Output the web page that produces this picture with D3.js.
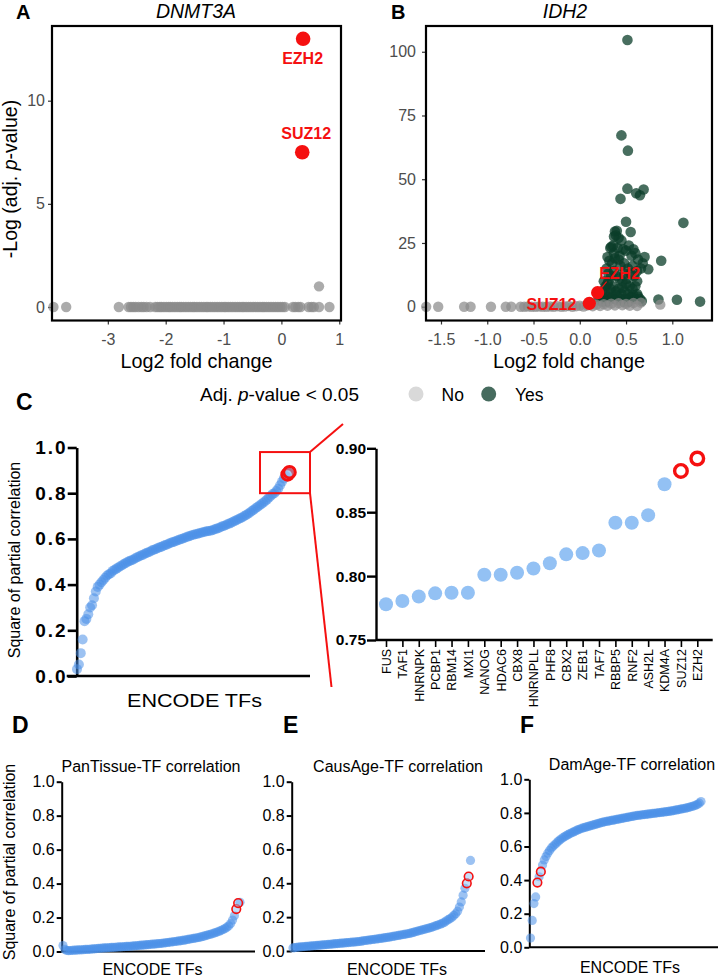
<!DOCTYPE html>
<html>
<head>
<meta charset="utf-8">
<script src="https://cdn.jsdelivr.net/npm/d3@7"></script>
<style>
  body { margin: 0; background: #fff; }
  svg { display: block; font-family: "Liberation Sans", Arial, Helvetica, sans-serif; }
</style>
</head>
<body>
<svg id="fig" width="720" height="977"></svg>
<script>
// ---- data ----
// A: DNMT3A volcano (log2FC, -log adj p)
const dnmtGreyX = [-3.94, -3.72, -2.81, -2.64, -2.6, -2.56, -2.52, -2.47, -2.42, -2.38, -2.33, -2.27,
  -2.18, -2.14, -2.1, -2.07, -2.03, -1.99, -1.95, -1.92, -1.88, -1.84, -1.8, -1.76, -1.73, -1.69, -1.65,
  -1.61, -1.57, -1.53, -1.5, -1.46, -1.42, -1.38, -1.34, -1.3, -1.27, -1.23, -1.19, -1.15, -1.11, -1.07,
  -1.03, -0.99, -0.96, -0.92, -0.88, -0.84, -0.8, -0.76, -0.72, -0.68, -0.65, -0.61, -0.57, -0.53, -0.49,
  -0.45, -0.41, -0.37, -0.33, -0.3, -0.26, -0.22, -0.18, -0.14, -0.1, -0.06, -0.02, 0.02, 0.06, 0.2, 0.24,
  0.29, 0.33, 0.47, 0.52, 0.56, 0.65, 0.83];
const dnmtGreyRaised = [[0.65, 1.0]];
const dnmtHits = [{ gene: 'EZH2', x: 0.375, y: 13.0 }, { gene: 'SUZ12', x: 0.36, y: 7.5 }];

// B: IDH2 volcano
const idhGrey = [[-1.66, 0], [-1.53, 0], [-1.25, 0], [-1.18, 0], [-0.96, 0], [-0.8, 0], [-0.74, 0],
  [-0.64, 0], [-0.6, 0], [-0.56, 0.1], [-0.52, 0], [-0.48, 0], [-0.44, 0.1], [-0.4, 0], [-0.36, 0],
  [-0.32, 0.1], [-0.28, 0], [-0.24, 0.2], [-0.2, 0], [-0.16, 0.1], [-0.12, 0.3], [-0.08, 0], [-0.04, 0.2],
  [0, 0.4], [0.04, 0.1], [0.08, 0.5], [0.14, 0.2], [0.18, 0.8], [0.22, 0.3], [0.26, 1.0], [0.3, 0.4],
  [0.34, 1.2], [0.38, 0.5], [0.42, 1.4], [0.46, 0.6], [0.5, 1.1], [0.54, 0.4], [0.58, 1.5], [0.62, 0.3],
  [0.66, 1.6], [0.87, 0.8]];
const idhGreen = [[0.515, 104.6], [0.45, 67.2], [0.52, 61.2], [0.515, 46.3], [0.61, 44.5], [0.69, 46],
  [0.65, 43.7], [0.44, 42.3], [0.5, 33.3], [1.12, 32.9], [0.55, 29.3], [0.88, 18], [0.7, 19.5], [0.74, 14.7],
  [0.85, 2.8], [1.05, 2.7], [1.3, 2.0], [0.67, 2.2], [0.62, 5],
  [0.38, 29.5], [0.4, 29.8], [0.39, 28], [0.37, 27.5], [0.42, 27], [0.45, 26], [0.36, 24], [0.34, 23.5],
  [0.33, 23], [0.41, 23], [0.47, 22.5], [0.5, 22], [0.53, 24], [0.58, 22.5], [0.6, 21], [0.56, 20],
  [0.63, 18.5], [0.68, 17], [0.66, 15], [0.3, 19.5], [0.32, 18], [0.35, 17], [0.38, 19], [0.42, 18.5],
  [0.44, 16], [0.48, 17], [0.52, 15], [0.55, 13], [0.59, 12], [0.62, 10], [0.29, 15], [0.31, 13],
  [0.34, 12], [0.37, 14], [0.4, 12], [0.43, 11], [0.46, 10], [0.5, 9], [0.54, 8], [0.57, 7], [0.6, 8],
  [0.26, 10], [0.28, 8], [0.3, 9], [0.33, 7], [0.36, 8], [0.39, 6], [0.42, 7], [0.45, 5], [0.48, 6],
  [0.52, 5], [0.56, 4], [0.58, 4.5], [0.24, 6], [0.22, 4], [0.26, 3.5], [0.29, 4], [0.32, 3], [0.35, 4],
  [0.38, 3], [0.41, 2.5], [0.44, 3], [0.47, 2], [0.5, 3], [0.53, 2], [0.55, 3.5], [0.6, 3], [0.63, 4],
  [0.65, 3], [0.2, 2.5], [0.25, 2], [0.3, 2], [0.27, 6], [0.34, 5.5], [0.4, 4.5], [0.46, 7.5], [0.51, 11],
  [0.57, 16], [0.62, 14], [0.48, 13], [0.43, 20], [0.37, 21], [0.31, 10]];
const idhHits = [{ gene: 'EZH2', x: 0.193, y: 5.5 }, { gene: 'SUZ12', x: 0.103, y: 1.33 }];

// C: ENCODE TFs ranked (square of partial correlation), last two are SUZ12 / EZH2
const encodeValues = [0.03, 0.05, 0.10, 0.16, 0.24, 0.25, 0.27, 0.30, 0.31, 0.34, 0.37, 0.39,
  0.40, 0.41, 0.42, 0.43, 0.44, 0.445, 0.45, 0.46, 0.465, 0.47, 0.475, 0.48, 0.485, 0.49, 0.495, 0.50,
  0.503, 0.507, 0.51, 0.515, 0.52, 0.523, 0.527, 0.53, 0.535, 0.538, 0.542, 0.545, 0.55, 0.553, 0.556,
  0.56, 0.563, 0.566, 0.57, 0.573,
  0.576, 0.58, 0.583, 0.586, 0.589, 0.592, 0.595, 0.598, 0.601, 0.604, 0.607, 0.61, 0.613, 0.616, 0.618,
  0.62, 0.622, 0.625, 0.627, 0.629, 0.631, 0.633, 0.635, 0.636,
  0.638, 0.641, 0.644, 0.647, 0.65, 0.654, 0.657, 0.66, 0.664, 0.667, 0.671, 0.675, 0.679, 0.683, 0.687,
  0.691, 0.695, 0.70,
  0.705, 0.71, 0.716, 0.722, 0.728, 0.734, 0.74, 0.746, 0.752, 0.758, 0.765, 0.772, 0.78, 0.788, 0.796,
  0.80, 0.81, 0.82, 0.835, 0.85, 0.865, 0.875, 0.882, 0.892];
const encodeHits = [112, 113];

// C zoom: top 20 TFs
const zoomGenes = ['FUS', 'TAF1', 'HNRNPK', 'PCBP1', 'RBM14', 'MXI1', 'NANOG', 'HDAC6', 'CBX8', 'HNRNPLL',
  'PHF8', 'CBX2', 'ZEB1', 'TAF7', 'RBBP5', 'RNF2', 'ASH2L', 'KDM4A', 'SUZ12', 'EZH2'];
const zoomValues = [0.778, 0.7805, 0.784, 0.7865, 0.787, 0.787, 0.801, 0.801, 0.8026, 0.806,
  0.810, 0.817, 0.818, 0.820, 0.8417, 0.8417, 0.8477, 0.8719, 0.8823, 0.8920];
const zoomHits = ['SUZ12', 'EZH2'];

// D, E, F
const panTissueValues = [0.035, 0.012, 0.006, 0.005, 0.006,
  0.007, 0.008, 0.008, 0.009, 0.010, 0.010, 0.011, 0.012, 0.012, 0.013, 0.014, 0.015, 0.016, 0.017, 0.018,
  0.019, 0.020, 0.021, 0.021, 0.022, 0.023, 0.024, 0.024, 0.025, 0.026, 0.027, 0.027, 0.028, 0.029, 0.030,
  0.030, 0.031, 0.032,
  0.033, 0.034, 0.035, 0.036, 0.037, 0.038, 0.039, 0.040, 0.041, 0.042, 0.043, 0.044, 0.045, 0.046,
  0.047, 0.048, 0.050, 0.051, 0.053, 0.054, 0.056, 0.057, 0.059, 0.060, 0.062, 0.063, 0.065,
  0.067, 0.069, 0.071, 0.073, 0.075, 0.077, 0.079, 0.081, 0.083,
  0.086, 0.089, 0.092, 0.095, 0.098, 0.101, 0.104, 0.108, 0.112,
  0.116, 0.120, 0.125, 0.130, 0.136, 0.143, 0.151,
  0.165, 0.185, 0.21, 0.25, 0.285, 0.29];
const panTissueHits = [93, 94];

const causAgeValues = [0.018, 0.020, 0.022, 0.023, 0.024, 0.025, 0.026, 0.027, 0.028, 0.029,
  0.030, 0.031, 0.032, 0.033, 0.034, 0.035, 0.036, 0.037, 0.038, 0.039,
  0.040, 0.041, 0.042, 0.043, 0.044, 0.045, 0.046, 0.047, 0.048, 0.049,
  0.050, 0.051, 0.052, 0.053, 0.054, 0.055, 0.056, 0.058, 0.060,
  0.062, 0.063, 0.065, 0.066, 0.068, 0.069, 0.071, 0.072, 0.074, 0.075, 0.077,
  0.079, 0.080, 0.082, 0.084, 0.086, 0.088, 0.090, 0.092, 0.094, 0.096,
  0.098, 0.100, 0.102, 0.104, 0.107, 0.110,
  0.113, 0.116, 0.119, 0.122, 0.125, 0.128, 0.131, 0.134, 0.137,
  0.140, 0.144, 0.148, 0.152, 0.156, 0.160, 0.165, 0.170, 0.178,
  0.185, 0.192, 0.20, 0.21, 0.22, 0.235, 0.26,
  0.29, 0.33, 0.37, 0.40, 0.44, 0.535];
const causAgeHits = [94, 95];

const damAgeValues = [0.055, 0.16, 0.26, 0.30, 0.385, 0.42, 0.45, 0.49, 0.52, 0.54, 0.56, 0.575, 0.59,
  0.60, 0.61, 0.62, 0.63, 0.638, 0.646, 0.654, 0.66, 0.666, 0.672, 0.677, 0.682, 0.687, 0.692, 0.697,
  0.701, 0.705, 0.709, 0.712, 0.715, 0.718, 0.721, 0.724, 0.727, 0.73, 0.733, 0.736, 0.739, 0.742, 0.745,
  0.747, 0.749, 0.751, 0.753, 0.755, 0.757, 0.759, 0.761, 0.763, 0.765, 0.767, 0.769, 0.771, 0.773, 0.775,
  0.777, 0.779, 0.781, 0.783, 0.785, 0.786, 0.787, 0.789, 0.79, 0.791, 0.793, 0.794, 0.795, 0.797, 0.798,
  0.799, 0.801, 0.802, 0.803, 0.805, 0.806, 0.807, 0.809, 0.81, 0.812, 0.814, 0.816, 0.818, 0.82, 0.822,
  0.824, 0.826, 0.828, 0.83, 0.833, 0.836, 0.839, 0.842, 0.846, 0.851, 0.858, 0.868];
const damAgeHits = [4, 6];

const corrTicks = [0, 0.2, 0.4, 0.6, 0.8, 1.0];
const zoomTicks = [0.75, 0.80, 0.85, 0.90];

// ---- drawing ----
const svg = d3.select('#fig');
const RED = '#f51010';
const BLUE = '#4a90e8';

function letter(t, x, y, size) {
  svg.append('text').attr('x', x).attr('y', y).attr('font-size', size)
    .attr('font-weight', 'bold').text(t);
}

function volcano(o) {
  const g = svg.append('g');
  const x = d3.scaleLinear().domain(o.xDomain).range([o.left, o.right]);
  const y = d3.scaleLinear().domain(o.yDomain).range([o.bottom, o.top]);

  const ax = g.append('g').attr('transform', `translate(0,${o.bottom})`)
    .call(d3.axisBottom(x).tickValues(o.xTicks).tickFormat(o.xFormat).tickSize(4).tickPadding(9).tickSizeOuter(0));
  const ay = g.append('g').attr('transform', `translate(${o.left},0)`)
    .call(d3.axisLeft(y).tickValues(o.yTicks).tickFormat(d => String(d)).tickSize(4).tickPadding(o.yPad).tickSizeOuter(0));
  [ax, ay].forEach(a => {
    a.select('.domain').remove();
    a.selectAll('line').attr('stroke', '#333').attr('stroke-width', 1.2);
    a.selectAll('text').attr('font-size', 16).attr('fill', '#4d4d4d').attr('font-family', null);
  });

  if (o.green) {
    g.selectAll('.yes').data(o.green).join('circle')
      .attr('cx', d => x(d[0])).attr('cy', d => y(d[1])).attr('r', 5.3)
      .attr('fill', '#0b3d2a').attr('fill-opacity', 0.75);
  }
  g.selectAll('.no').data(o.grey).join('circle')
    .attr('cx', d => x(d[0])).attr('cy', d => y(d[1])).attr('r', 5.2)
    .attr('fill', '#8a8a8a').attr('fill-opacity', 0.72);

  o.hits.forEach(h => {
    const px = x(h.x), py = y(h.y), lab = o.labels[h.gene];
    if (lab.line) {
      g.append('line').attr('x1', px).attr('y1', py).attr('x2', px + lab.line[0]).attr('y2', py + lab.line[1])
        .attr('stroke', RED).attr('stroke-width', 1.2);
    }
    g.append('circle').attr('cx', px).attr('cy', py).attr('r', o.hitR).attr('fill', RED);
    g.append('text').attr('x', px + lab.dx).attr('y', py + lab.dy).attr('text-anchor', lab.anchor)
      .attr('font-size', 16).attr('font-weight', 'bold').attr('fill', RED).text(h.gene);
  });

  g.append('rect').attr('x', o.left).attr('y', o.top).attr('width', o.right - o.left)
    .attr('height', o.bottom - o.top).attr('fill', 'none').attr('stroke', '#000').attr('stroke-width', 2.2);

  g.append('text').attr('x', o.titleX).attr('y', 18).attr('text-anchor', 'middle')
    .attr('font-size', 19.5).attr('font-style', 'italic').text(o.title);
  g.append('text').attr('x', (o.left + o.right) / 2).attr('y', 368).attr('text-anchor', 'middle')
    .attr('font-size', 19.8).text('Log2 fold change');
}

volcano({
  left: 52, right: 341, top: 26, bottom: 320.5,
  xDomain: [-3.965, 1.03], yDomain: [-0.654, 13.62],
  xTicks: [-3, -2, -1, 0, 1], yTicks: [0, 5, 10], xFormat: d => String(d), yPad: 3,
  grey: dnmtGreyX.map(v => [v, 0]).concat(dnmtGreyRaised),
  hits: dnmtHits, hitR: 7.3,
  labels: { EZH2: { dx: -0.5, dy: 25, anchor: 'middle' }, SUZ12: { dx: 4, dy: -13, anchor: 'middle' } },
  title: 'DNMT3A', titleX: 196
});
volcano({
  left: 426, right: 712, top: 26, bottom: 320.5,
  xDomain: [-1.662, 1.429], yDomain: [-5.41, 110.1],
  xTicks: [-1.5, -1.0, -0.5, 0.0, 0.5, 1.0], yTicks: [0, 25, 50, 75, 100], xFormat: d => d.toFixed(1), yPad: 6,
  grey: idhGrey, green: idhGreen,
  hits: idhHits, hitR: 6.6,
  labels: { EZH2: { dx: 22, dy: -13.5, anchor: 'middle', line: [9, -11] }, SUZ12: { dx: -13, dy: 7, anchor: 'end' } },
  title: 'IDH2', titleX: 565
});

// A y label
svg.append('text').attr('transform', 'translate(17,179) rotate(-90)').attr('text-anchor', 'middle')
  .attr('font-size', 19.5)
  .call(t => { t.append('tspan').text('-Log (adj. '); t.append('tspan').attr('font-style', 'italic').text('p'); t.append('tspan').text('-value)'); });

letter('A', 16, 19, 20);
letter('B', 391, 19, 20);

// legend
const leg = svg.append('g');
leg.append('text').attr('x', 200).attr('y', 401).attr('font-size', 19)
  .call(t => { t.append('tspan').text('Adj. '); t.append('tspan').attr('font-style', 'italic').text('p'); t.append('tspan').text('-value < 0.05'); });
leg.append('circle').attr('cx', 416).attr('cy', 394).attr('r', 7.5).attr('fill', '#d9d9d9');
leg.append('text').attr('x', 441.5).attr('y', 401).attr('font-size', 17.5).text('No');
leg.append('circle').attr('cx', 488.7).attr('cy', 394).attr('r', 7.5).attr('fill', '#466b5e');
leg.append('text').attr('x', 515).attr('y', 401).attr('font-size', 17.5).text('Yes');

// ranked correlation panels
function ranked(o) {
  const g = svg.append('g');
  const x = d3.scaleLinear().domain([0, o.values.length - 1]).range(o.xRange);
  const y = d3.scaleLinear().domain([0, 1]).range(o.yRange);

  const ay = g.append('g').attr('transform', `translate(${o.axisX},0)`)
    .call(d3.axisLeft(y).tickValues(corrTicks).tickFormat(d3.format('.1f'))
      .tickSize(o.tick).tickPadding(o.pad).tickSizeOuter(0));
  ay.selectAll('path,line').attr('stroke', '#000').attr('stroke-width', o.axisW);
  ay.selectAll('text').attr('font-size', o.tickFont).attr('font-weight', o.bold ? 'bold' : null)
    .attr('letter-spacing', o.spacing || null).attr('fill', '#000').attr('font-family', null);
  g.append('line').attr('x1', o.baseFrom).attr('x2', o.baseTo).attr('y1', y(0)).attr('y2', y(0))
    .attr('stroke', '#000').attr('stroke-width', o.axisW);

  const pts = o.values.map((v, i) => ({ i, v, hit: o.hits.includes(i) }));
  g.selectAll('.pt').data(pts.filter(d => !d.hit)).join('circle')
    .attr('cx', d => x(d.i)).attr('cy', d => y(d.v)).attr('r', o.r)
    .attr('fill', BLUE).attr('fill-opacity', 0.55);
  g.selectAll('.hit').data(pts.filter(d => d.hit)).join('circle')
    .attr('cx', d => x(d.i)).attr('cy', d => y(d.v)).attr('r', o.ringR)
    .attr('fill', '#8fbdf2').attr('fill-opacity', 0.5)
    .attr('stroke', RED).attr('stroke-width', o.ringW);

  if (o.title) {
    g.append('text').attr('x', o.titleX).attr('y', o.titleY).attr('text-anchor', 'middle')
      .attr('font-size', 16).text(o.title);
  }
  const xl = g.append('text').attr('x', o.xLabX).attr('y', o.xLabY).attr('text-anchor', 'middle')
    .attr('font-size', o.xLabFont).text('ENCODE TFs');
  if (o.xLabLen) xl.attr('textLength', o.xLabLen).attr('lengthAdjust', 'spacingAndGlyphs');
  if (o.yLab) {
    g.append('text').attr('transform', `translate(${o.yLab[0]},${o.yLab[1]}) rotate(-90)`)
      .attr('text-anchor', 'middle').attr('font-size', 16).text('Square of partial correlation');
  }
  return { x, y };
}

const cLeft = ranked({
  values: encodeValues, hits: encodeHits, xRange: [77, 289.5], yRange: [676, 447.5],
  axisX: 76.7, tick: 9, pad: 0, axisW: 2.6, tickFont: 19, bold: true, spacing: 2,
  baseFrom: 66.7, baseTo: 310, r: 5, ringR: 5.8, ringW: 3,
  xLabX: 194.5, xLabY: 707, xLabFont: 17.5, xLabLen: 135, yLab: [20, 560]
});

// red zoom box + connector lines
const boxTop = cLeft.y(0.98), boxBot = cLeft.y(0.80);
svg.append('rect').attr('x', 260).attr('y', boxTop).attr('width', 50).attr('height', boxBot - boxTop)
  .attr('fill', 'none').attr('stroke', RED).attr('stroke-width', 2);
svg.append('line').attr('x1', 310).attr('y1', boxTop).attr('x2', 343).attr('y2', 424)
  .attr('stroke', RED).attr('stroke-width', 2);
svg.append('line').attr('x1', 310).attr('y1', boxBot).attr('x2', 331.5).attr('y2', 687)
  .attr('stroke', RED).attr('stroke-width', 2);

// zoomed top-20 panel
(function () {
  const g = svg.append('g');
  const x = d3.scalePoint().domain(zoomGenes).range([386, 697.3]);
  const y = d3.scaleLinear().domain([0.75, 0.90]).range([640, 448.3]);
  const ay = g.append('g').attr('transform', 'translate(376,0)')
    .call(d3.axisLeft(y).tickValues(zoomTicks).tickFormat(d3.format('.2f')).tickSize(9).tickPadding(1).tickSizeOuter(0));
  ay.selectAll('path,line').attr('stroke', '#000').attr('stroke-width', 2.4);
  ay.selectAll('text').attr('font-size', 15.5).attr('font-weight', 'bold').attr('fill', '#000').attr('font-family', null);

  const ax = g.append('g').attr('transform', 'translate(0,640)')
    .call(d3.axisBottom(x).tickSize(7).tickSizeOuter(0));
  ax.select('.domain').remove();
  ax.selectAll('line').attr('stroke', '#000').attr('stroke-width', 1.6);
  ax.selectAll('text').attr('font-size', 12.5).attr('fill', '#000').attr('font-family', null)
    .attr('text-anchor', 'end').attr('transform', 'translate(0,9) rotate(-90)')
    .attr('x', 0).attr('y', 0).attr('dy', '0.35em');
  g.append('line').attr('x1', 376).attr('x2', 712.7).attr('y1', 640).attr('y2', 640)
    .attr('stroke', '#000').attr('stroke-width', 2.4);

  const pts = zoomGenes.map((gname, i) => ({ gname, v: zoomValues[i] }));
  g.selectAll('.zp').data(pts.filter(d => !zoomHits.includes(d.gname))).join('circle')
    .attr('cx', d => x(d.gname)).attr('cy', d => y(d.v)).attr('r', 7).attr('fill', '#93c1f4');
  g.selectAll('.zh').data(pts.filter(d => zoomHits.includes(d.gname))).join('circle')
    .attr('cx', d => x(d.gname)).attr('cy', d => y(d.v)).attr('r', 6.3)
    .attr('fill', 'none').attr('stroke', RED).attr('stroke-width', 3.4);
})();

letter('C', 16, 410, 23);

ranked({
  values: panTissueValues, hits: panTissueHits, xRange: [63, 240], yRange: [951.5, 781.7],
  axisX: 61.7, tick: 5, pad: 2, axisW: 2, tickFont: 16, baseFrom: 61.7, baseTo: 255,
  r: 4.6, ringR: 4.3, ringW: 1.6,
  title: 'PanTissue-TF correlation', titleX: 151, titleY: 772,
  xLabX: 152.5, xLabY: 975, xLabFont: 16, yLab: [15, 862]
});
ranked({
  values: causAgeValues, hits: causAgeHits, xRange: [293, 470.5], yRange: [951, 781.7],
  axisX: 291.7, tick: 5, pad: 2, axisW: 2, tickFont: 16, baseFrom: 291.7, baseTo: 485,
  r: 4.6, ringR: 4.3, ringW: 1.6,
  title: 'CausAge-TF correlation', titleX: 398, titleY: 772,
  xLabX: 397, xLabY: 975, xLabFont: 16
});
ranked({
  values: damAgeValues, hits: damAgeHits, xRange: [530.5, 701], yRange: [947.3, 779.3],
  axisX: 529.3, tick: 5, pad: 2, axisW: 2, tickFont: 16, baseFrom: 529.3, baseTo: 718,
  r: 4.6, ringR: 4.3, ringW: 1.6,
  title: 'DamAge-TF correlation', titleX: 632, titleY: 770,
  xLabX: 630, xLabY: 973, xLabFont: 16
});

letter('D', 12, 733, 23);
letter('E', 283, 733, 23);
letter('F', 520, 733, 23);
</script>
</body>
</html>
